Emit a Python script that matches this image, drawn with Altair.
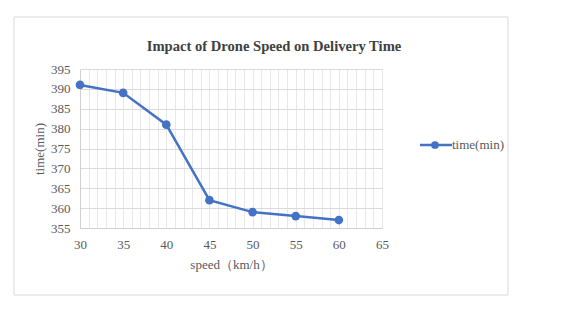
import altair as alt
import pandas as pd

speed = [30, 35, 40, 45, 50, 55, 60]
time_min = [391, 389, 381, 362, 359, 358, 357]
title_text = "Impact of Drone Speed on Delivery Time"
x_title = "speed（km/h）"
y_title = "time(min)"
series_name = "time(min)"
x_ticks = list(range(30, 66))
y_ticks = list(range(355, 396, 5))

df = pd.DataFrame({"speed": speed, "time": time_min})
one = pd.DataFrame({"a": [0]})

BLUE = "#4472C4"
FONT = "Liberation Serif"
W, H = 302, 159

x_enc = alt.X("speed:Q", scale=alt.Scale(domain=[30, 65], nice=False, zero=False),
              axis=alt.Axis(values=x_ticks, title=x_title,
                            labelExpr="datum.value % 5 == 0 ? datum.label : ''",
                            labelOverlap=False, labelFlush=False, labelBound=False,
                            grid=True, gridColor="#e8e8e8", ticks=False,
                            domainColor="#d0d0d0", labelPadding=10,
                            titlePadding=7))
y_enc = alt.Y("time:Q", scale=alt.Scale(domain=[355, 395], nice=False, zero=False),
              axis=alt.Axis(values=y_ticks, title=y_title, grid=True,
                            labelOverlap=False, labelFlush=False, labelBound=False,
                            gridColor="#dadada", ticks=False,
                            domainColor="#d0d0d0", labelPadding=10,
                            titlePadding=4))

base = alt.Chart(df).encode(x=x_enc, y=y_enc)
line = base.mark_line(color=BLUE, strokeWidth=2.5)
pts = base.mark_circle(color=BLUE, size=75, opacity=1)

border = alt.Chart(one).mark_rect(fill=None, stroke="#d9d9d9", strokeWidth=1, clip=False).encode(
    x=alt.value(-66), x2=alt.value(428), y=alt.value(-52), y2=alt.value(226))

title = alt.Chart(one).mark_text(text=title_text, font=FONT, fontSize=14.6, fontWeight="bold",
                                 color="#404040", align="center", baseline="alphabetic").encode(
    x=alt.value(194), y=alt.value(-18))

leg_line = alt.Chart(one).mark_rule(color=BLUE, strokeWidth=2.5).encode(
    x=alt.value(340), x2=alt.value(372), y=alt.value(76))
leg_pt = alt.Chart(one).mark_circle(color=BLUE, size=60, opacity=1).encode(
    x=alt.value(355), y=alt.value(76))
leg_txt = alt.Chart(one).mark_text(text=series_name, font=FONT, fontSize=13, color="#595959",
                                   align="left", baseline="middle").encode(
    x=alt.value(372), y=alt.value(76))

chart = alt.layer(border, line, pts, title, leg_line, leg_pt, leg_txt).properties(
    width=W, height=H,
    background="white",
    autosize=alt.AutoSizeParams(type="none"),
    padding={"left": 72, "top": 61, "right": 185, "bottom": 73},
).configure_view(stroke=None).configure_axis(
    labelFont=FONT, titleFont=FONT, labelFontSize=13, titleFontSize=13,
    labelColor="#595959", titleColor="#595959", titleFontWeight="normal",
    labelOverlap=False,
)

chart.save("out.html", embed_options={"renderer": "svg", "actions": False})
